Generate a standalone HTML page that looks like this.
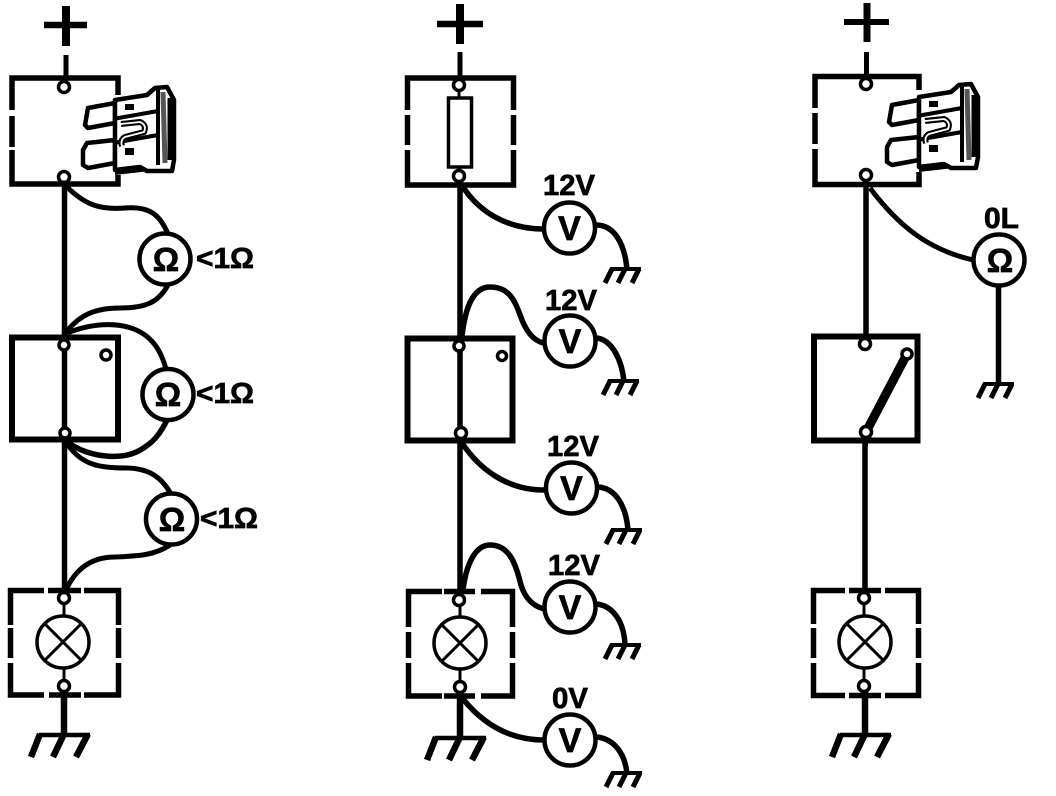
<!DOCTYPE html>
<html><head><meta charset="utf-8"><style>html,body{margin:0;padding:0;background:#fff}svg{display:block}
text{font-family:"Liberation Sans",sans-serif;font-weight:bold;fill:#000;stroke:#000;stroke-width:.7px}</style></head><body>
<svg width="1056" height="796" viewBox="0 0 1056 796" xmlns="http://www.w3.org/2000/svg">
<defs>
<g id="fuse">
<path d="M88,108 L115,103 L115,123 L88,128 L85,125 Z M87,143 L115,140 L115,163 L88,168 L83,165 L83,150 Z" fill="#fff" stroke="#000" stroke-width="4.500" stroke-linejoin="round"/>
<path d="M115,100 L147,95 L155,88 L167,87 L174,100 L174,160 L172,171 L147,171 L140,167 L115,170 Z" fill="#fff" stroke="#000" stroke-width="4.500" stroke-linejoin="round"/>
<path d="M113,119 L158,111 M113,143 L158,135 M158,90 L158,165" stroke="#000" stroke-width="4" fill="none"/>
<path d="M115,168 L140,165 L150,171 L115,175 Z" fill="#000"/>
<path d="M163,92 L165,163" stroke="#555" stroke-width="5"/>
<path d="M170,98 L170,160" stroke="#000" stroke-width="5"/>
<rect x="125" y="104" width="9" height="6" fill="#000"/><rect x="125" y="148" width="9" height="7" fill="#000"/>
<path d="M121,124 L140,122 Q147,125 144,132 L125,137 Q120,140 122,146" fill="none" stroke="#000" stroke-width="6"/>
<path d="M121,124 L140,122 Q147,125 144,132 L125,137 Q120,140 122,146" fill="none" stroke="#fff" stroke-width="1.800"/>
</g>
<g id="gs" fill="none" stroke="#000">
<path d="M-17,1 H14" stroke-width="4"/>
<path d="M-15,1 L-22,15 M-2,1 L-9,15 M12,1 L5,15" stroke-width="5"/>
</g>
<g id="gb" fill="none" stroke="#000">
<path d="M-25,2 H26" stroke-width="4.500"/>
<path d="M-24,1 L-33,24 M0,1 L-11,24 M24,1 L12,24" stroke-width="6.500"/>
</g>
<g id="lamp" fill="#fff" stroke="#000">
<circle r="26" stroke-width="3.500"/>
<path d="M-18,-18 L18,18 M18,-18 L-18,18" stroke-width="3" fill="none"/>
</g>
</defs>
<rect width="1056" height="796" fill="#fff"/>

<g fill="none" stroke="#000" stroke-linecap="butt">
<!-- Column 1 -->
<path d="M66,6 V46" stroke-width="8"/><path d="M44,25 H87" stroke-width="6.500"/>
<path d="M66,55 V78" stroke-width="5"/>
<path d="M12,110 V78 H118 V95 M12,116 V147 M12,150 V184 H118 V175" stroke-width="5.500"/>
<path d="M64.500,183 V592" stroke-width="5.500"/>
<rect x="12" y="337.500" width="106" height="102" stroke-width="6"/>
<path d="M66,186 C85,205 100,210 125,208 C150,206 160,215 168,234" stroke-width="5"/>
<path d="M67,331 C80,315 95,308 120,308 C145,308 158,303 168,285" stroke-width="5"/>
<path d="M67,333 C95,322 125,321 145,335 C157,344 162,355 166,369" stroke-width="5"/>
<path d="M67,442 C90,458 125,462 145,447 C156,440 162,430 167,420" stroke-width="5.500"/>
<path d="M68,445 C82,465 100,468 125,468 C150,468 162,478 171,494" stroke-width="5"/>
<path d="M66,590 C75,570 90,557 115,557 C140,556 155,555 170,545" stroke-width="5"/>
<path d="M10.500,625 V590.500 H44 M48,590.500 H81 M84,590.500 H118.500 V625 M10.500,628 V658 M118.500,628 V658 M10.500,663 V695 H44 M49,695 H81 M84,695 H118.500 V663" stroke-width="5.500"/>
<path d="M64,690 V736" stroke-width="6.500"/>

<!-- Column 2 -->
<path d="M460,4 V44" stroke-width="8"/><path d="M437,24 H483" stroke-width="6.500"/>
<path d="M460,52 V78" stroke-width="5"/>
<path d="M407.500,110 V78 H513.500 V110 M407.500,115 V145 M513.500,115 V145 M407.500,150 V185 H513.500 V150" stroke-width="5.500"/>
<path d="M460,185 V592" stroke-width="5.500"/>
<rect x="407.500" y="338.500" width="105" height="102" stroke-width="6"/>
<path d="M463,187 C478,210 505,229 543,229" stroke-width="5.500"/>
<path d="M596,225 C615,225 625,245 627,270" stroke-width="5.500"/>
<path d="M462,336 C465,310 472,287 490,287 C512,287 516,305 522,320 C527,332 533,340 543,343" stroke-width="5.500"/>
<path d="M597,338 C612,340 622,360 624,382" stroke-width="5.500"/>
<path d="M462,443 C478,467 505,490 544,490" stroke-width="5.500"/>
<path d="M598,487 C615,488 626,505 628,530" stroke-width="5.500"/>
<path d="M463,590 C466,565 475,545 490,545 C510,545 516,565 521,585 C525,598 533,606 544,609" stroke-width="5.500"/>
<path d="M597,604 C612,606 624,620 625,645" stroke-width="5.500"/>
<path d="M408.500,627 V591.500 H442 M444,591.500 H475 M481,591.500 H512.500 V627 M408.500,632 V658 M512.500,632 V658 M408.500,663 V696 H442 M444,696 H475 M481,696 H512.500 V663" stroke-width="5.500"/>
<path d="M460,694 V738" stroke-width="6.500"/>
<path d="M463,699 C480,720 505,740 544,740" stroke-width="5.500"/>
<path d="M597,737 C613,739 625,752 627,774" stroke-width="5.500"/>

<!-- Column 3 -->
<path d="M867,3 V42" stroke-width="7"/><path d="M844,22 H889" stroke-width="6"/>
<path d="M866.500,52 V76" stroke-width="5"/>
<path d="M815,108 V76.500 H919 V90 M815,113 V144 M815,149 V184.500 H919 V172" stroke-width="5.500"/>
<path d="M866,184 V336" stroke-width="5.500"/>
<rect x="814" y="336.500" width="103.500" height="104" stroke-width="6"/>
<path d="M868,443 H865 V592" stroke-width="5.500"/>
<path d="M870,188 C900,228 930,250 973,260" stroke-width="5"/>
<path d="M998.500,285 V383" stroke-width="5.500"/>
<path d="M813.500,624 V590.500 H845 M849,590.500 H881 M885,590.500 H918.500 V624 M813.500,628 V658 M918.500,628 V658 M813.500,663 V695.500 H845 M849,695.500 H881 M885,695.500 H918.500 V663" stroke-width="5.500"/>
<path d="M865,690 V733" stroke-width="6.500"/>
<path d="M866,432 L907,354" stroke-width="9"/>
</g>

<rect x="448.500" y="98" width="23" height="69" fill="#fff" stroke="#000" stroke-width="3.500"/>
<path d="M459,91 V98 M459,167 V172" stroke="#000" stroke-width="3"/>

<g stroke="#000" stroke-width="3"><path d="M64,604 V616 M64,668 V680 M460,606 V617 M460,669 V681 M864,604 V616 M864,668 V680"/></g>
<use href="#lamp" x="63" y="642"/><use href="#lamp" x="460" y="643"/><use href="#lamp" x="865" y="642"/>

<g fill="#fff" stroke="#000" stroke-width="3.500">
<circle cx="64" cy="87" r="5.500"/><circle cx="64" cy="177" r="5.500"/>
<circle cx="64" cy="345" r="5"/><circle cx="106" cy="355" r="5"/><circle cx="65" cy="433" r="5"/>
<circle cx="64" cy="598" r="5.500"/><circle cx="64" cy="686" r="5.500"/>
<circle cx="459" cy="85" r="5.500"/><circle cx="459" cy="176" r="5.500"/>
<circle cx="459" cy="346" r="5"/><circle cx="502" cy="356" r="4.500"/><circle cx="461" cy="433" r="5.500"/>
<circle cx="459" cy="600" r="5.500"/><circle cx="460" cy="687" r="5.500"/>
<circle cx="866" cy="84" r="5.500"/><circle cx="866" cy="175" r="5.500"/>
<circle cx="865" cy="344" r="5.500"/><circle cx="907" cy="354" r="5"/><circle cx="866" cy="432" r="5.500"/>
<circle cx="864" cy="598" r="5.500"/><circle cx="864" cy="686" r="5.500"/>
</g>

<use href="#fuse"/><use href="#fuse" x="804" y="-3"/>

<use href="#gb" x="64" y="733"/><use href="#gb" x="460" y="736"/><use href="#gb" x="865" y="733"/>
<use href="#gs" x="627" y="268"/><use href="#gs" x="625" y="380"/><use href="#gs" x="628" y="529"/><use href="#gs" x="627" y="644"/><use href="#gs" x="628" y="772"/><use href="#gs" x="1000" y="383"/>

<g fill="#fff" stroke="#000" stroke-width="4.500">
<circle cx="165" cy="259" r="25.500"/><circle cx="168" cy="394.500" r="25.500"/><circle cx="171.500" cy="519" r="25.500"/>
<circle cx="569.500" cy="228" r="25.500"/><circle cx="570" cy="341" r="25.500"/><circle cx="571.500" cy="488" r="25.500"/><circle cx="570" cy="607" r="25.500"/><circle cx="570" cy="740" r="25.500"/>
<circle cx="999" cy="260" r="25.500"/>
</g>

<g font-size="33" text-anchor="middle">
<text x="166" y="271">Ω</text><text x="168" y="406">Ω</text><text x="172" y="531">Ω</text><text x="1000" y="272">Ω</text>
</g>
<g font-size="34" text-anchor="middle">
<text x="569.500" y="240">V</text><text x="570" y="353">V</text><text x="571.500" y="500">V</text><text x="570" y="619">V</text><text x="570" y="752">V</text>
</g>

<g font-size="29">
<text x="196" y="268" textLength="58" lengthAdjust="spacingAndGlyphs">&lt;1Ω</text>
<text x="196" y="403" textLength="58" lengthAdjust="spacingAndGlyphs">&lt;1Ω</text>
<text x="200" y="528" textLength="58" lengthAdjust="spacingAndGlyphs">&lt;1Ω</text>
<text x="543" y="195" textLength="52" lengthAdjust="spacingAndGlyphs">12V</text>
<text x="545" y="310" textLength="52" lengthAdjust="spacingAndGlyphs">12V</text>
<text x="547" y="456" textLength="52" lengthAdjust="spacingAndGlyphs">12V</text>
<text x="548" y="575" textLength="52" lengthAdjust="spacingAndGlyphs">12V</text>
<text x="552" y="708" textLength="36" lengthAdjust="spacingAndGlyphs">0V</text>
<text x="984" y="228" textLength="35" lengthAdjust="spacingAndGlyphs">0L</text>
</g>
</svg>
</body></html>
